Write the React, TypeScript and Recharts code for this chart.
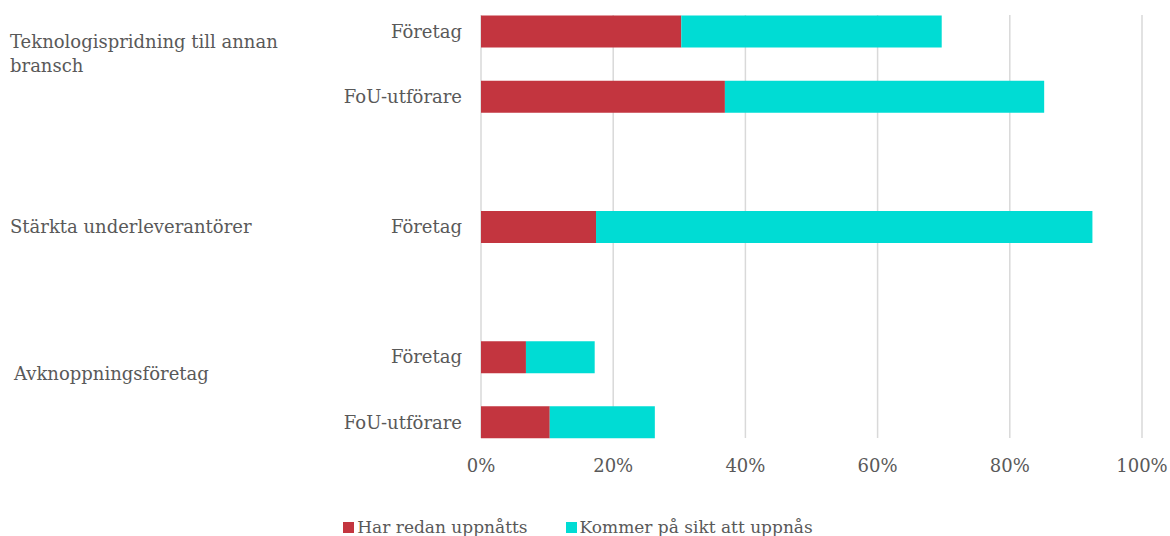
import React from "react";
import { BarChart, Bar, XAxis, YAxis, CartesianGrid, Legend } from "recharts";

// Rader uppifrån och ned; tomma rader skiljer grupperna åt
const rowLabels = ["Företag", "FoU-utförare", "", "Företag", "", "Företag", "FoU-utförare"];
const achieved = [30.3, 36.9, null, 17.4, null, 6.8, 10.4];
const future = [39.4, 48.3, null, 75.1, null, 10.4, 15.9];

// Gruppetiketter: rad som de hör till, rader med text
const groupRows = [0, 3, 5];
const groupLabels = [
  ["Teknologispridning till annan", "bransch"],
  ["Stärkta underleverantörer"],
  ["Avknoppningsföretag"],
];

const xTicks = [0, 20, 40, 60, 80, 100];

const RED = "#C3353F";
const CYAN = "#00DCD4";
const TEXT = "#595959";
const FONT = "'DejaVu Serif', serif";

const data = rowLabels.map((label, i) => ({
  id: i,
  label,
  achieved: achieved[i],
  future: future[i],
}));

const YTick = (props: any) => {
  const { x, y, payload } = props;
  const idx = payload.value as number;
  const g = groupRows.indexOf(idx);
  return (
    <g>
      <text
        x={x}
        y={y}
        dy="0.37em"
        textAnchor="end"
        fill={TEXT}
        fontSize={18}
        fontFamily={FONT}
      >
        {rowLabels[idx]}
      </text>
      {g >= 0 &&
        groupLabels[g].map((line, k) => (
          <text
            key={k}
            x={g === 2 ? 14 : 10}
            y={y + (g === 0 ? 10 : g === 2 ? 17 : 0) + k * 24}
            dy="0.37em"
            textAnchor="start"
            fill={TEXT}
            fontSize={18}
            fontFamily={FONT}
          >
            {line}
          </text>
        ))}
    </g>
  );
};

const XTick = (props: any) => {
  const { x, payload } = props;
  return (
    <text
      x={x}
      y={472}
      textAnchor="middle"
      fill={TEXT}
      fontSize={18}
      fontFamily={FONT}
    >
      {`${payload.value}%`}
    </text>
  );
};

const LegendContent = () => {
  const items = [
    { name: "Har redan uppnåtts", color: RED },
    { name: "Kommer på sikt att uppnås", color: CYAN },
  ];
  return (
    <div
      style={{
        display: "flex",
        justifyContent: "center",
        gap: 38,
        fontFamily: FONT,
        fontSize: 17,
        color: TEXT,
        marginLeft: -14,
      }}
    >
      {items.map((it) => (
        <div key={it.name} style={{ display: "flex", alignItems: "center" }}>
          <span
            style={{
              width: 11,
              height: 11,
              background: it.color,
              display: "inline-block",
              marginRight: 3,
            }}
          />
          <span>{it.name}</span>
        </div>
      ))}
    </div>
  );
};

export default function App() {
  return (
    <div style={{ width: 1170, height: 536, background: "#fff" }}>
      <style>{`body{margin:0}`}</style>
      <BarChart
        layout="vertical"
        width={1170}
        height={536}
        data={data}
        margin={{ top: 15, right: 28, bottom: 68, left: 0 }}
      >
        <CartesianGrid
          horizontal={false}
          stroke="#D9D9D9"
          strokeWidth={1.5}
        />
        <XAxis
          type="number"
          domain={[0, 100]}
          ticks={xTicks}
          axisLine={false}
          tickLine={false}
          tick={<XTick />}
          height={30}
        />
        <YAxis
          type="category"
          dataKey="id"
          width={481}
          axisLine={false}
          tickLine={false}
          tickMargin={13}
          tick={<YTick />}
          interval={0}
          padding={{ top: -16.5, bottom: -16.5 }}
        />
        <Legend
          layout="horizontal"
          verticalAlign="middle"
          align="center"
          content={<LegendContent />}
          wrapperStyle={{ top: 517, left: 0, width: 1170 }}
        />
        <Bar
          dataKey="achieved"
          stackId="a"
          fill={RED}
          barSize={32}
          isAnimationActive={false}
        />
        <Bar
          dataKey="future"
          stackId="a"
          fill={CYAN}
          barSize={32}
          isAnimationActive={false}
        />
      </BarChart>
    </div>
  );
}
